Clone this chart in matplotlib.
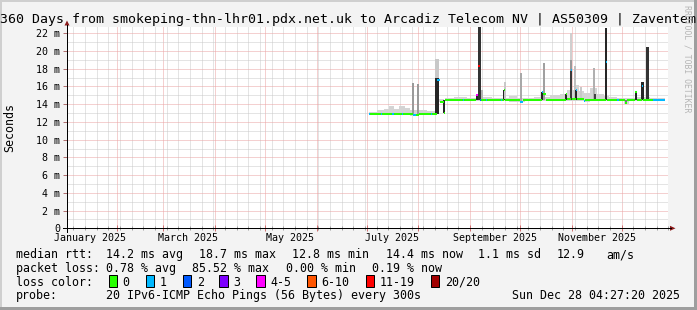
import datetime as dt
import matplotlib
matplotlib.use("Agg")
import matplotlib.pyplot as plt
from matplotlib.patches import Rectangle, Polygon
from matplotlib.lines import Line2D

W, H = 697, 310
MONO = "DejaVu Sans Mono"

start = dt.datetime(2025, 1, 2, 4, 27, 20)
span_days = 360

# median rtt (ms) as steps: start day (from graph start), value, loss class
med_day = [181.0, 181.8, 188.2, 189.0, 195.2, 196.0, 201.0, 201.8, 207.8, 209.6,
           211.0, 218.2, 219.0, 221.8, 223.8, 226.0, 226.8, 237.4, 238.2, 245.6,
           246.8, 247.9, 248.7, 251.3, 252.1, 260.5, 261.3, 262.2, 263.0, 271.8,
           273.4, 285.0, 285.8, 287.2, 299.2, 300.0, 302.2, 303.0, 305.2, 306.0,
           310.0, 311.0, 323.2, 324.0, 330.0, 331.0, 335.0, 336.0, 341.0, 341.8,
           345.0, 345.8, 351.5]
med_ms = [12.95, 12.95, 12.95, 12.95, 12.95, 12.95, 12.95, 12.95, 12.8, 12.75,
          12.9, 12.95, 12.95, 16.7, 14.3, 13.0, 14.5, 14.5, 14.5, 15.0,
          18.3, 14.45, 14.5, 14.5, 14.5, 14.5, 14.5, 15.6, 14.5, 14.3,
          14.45, 15.4, 15.2, 14.5, 15.2, 14.55, 17.9, 14.6, 15.6, 14.6,
          14.4, 14.5, 18.8, 14.5, 14.5, 14.5, 14.1, 14.5, 15.4, 14.5,
          16.0, 14.5, 14.5]
med_loss = [1, 0, 1, 0, 1, 0, 1, 0, 1, 0,
            0, 1, 0, 1, 0, 0, 0, 1, 0, 4,
            6, 2, 0, 1, 0, 1, 0, 0, 0, 1,
            0, 1, 0, 0, 0, 0, 1, 0, 1, 0,
            1, 0, 1, 0, 1, 0, 0, 0, 0, 0,
            1, 0, 1]
data_end = 358.9

# light smoke band: start day, low ms, high ms
smoke_day = [181.0, 186.0, 190.0, 193.0, 196.0, 199.0, 203.0, 206.0, 211.0, 216.0,
             221.5, 223.5, 226.0, 226.8, 232.0, 240.0, 248.0, 255.0, 265.0, 270.0,
             275.0, 280.0, 290.0, 296.0, 300.0, 304.0, 307.0, 310.0, 314.0, 318.0,
             322.0, 325.0, 330.0, 334.0, 337.0, 342.0, 350.0]
smoke_lo = [12.85, 12.85, 12.85, 12.85, 12.85, 12.85, 12.85, 12.7, 12.8, 12.85,
            12.9, 14.2, 12.9, 14.4, 14.4, 14.4, 14.4, 14.4, 14.3, 14.25,
            14.35, 14.4, 14.4, 14.4, 14.4, 14.4, 14.4, 14.3, 14.4, 14.4,
            14.4, 14.35, 14.35, 14.0, 14.35, 14.4, 14.4]
smoke_hi = [13.15, 13.3, 13.45, 13.75, 13.5, 13.85, 13.6, 13.35, 13.4, 13.2,
            13.2, 14.6, 13.1, 14.75, 14.8, 14.7, 14.8, 14.7, 14.9, 14.75,
            14.7, 14.8, 15.0, 15.1, 15.6, 16.2, 15.5, 15.3, 15.8, 15.2,
            14.9, 14.8, 14.75, 14.7, 14.7, 14.8, 14.7]

# smoke bursts: day, low ms, high ms, shade
burst_day = [207.6, 210.6, 222.2, 222.2, 226.2, 246.0, 247.5, 248.9, 262.4, 262.9,
             272.4, 285.2, 286.4, 299.4, 302.4, 302.4, 302.4, 304.6, 305.4, 308.5,
             316.4, 316.6, 323.4, 335.4, 341.3, 345.3, 348.3]
burst_lo = [12.9, 12.9, 16.9, 12.95, 13.0, 14.5, 14.5, 14.5, 14.5, 14.6,
            14.3, 14.5, 14.5, 14.5, 18.0, 17.0, 14.5, 14.6, 14.5, 14.6,
            14.6, 14.5, 14.5, 14.1, 14.5, 14.5, 14.5]
burst_hi = [16.4, 16.3, 19.1, 16.9, 14.5, 15.0, 22.8, 15.6, 15.6, 16.5,
            17.5, 15.4, 18.6, 15.2, 22.0, 19.0, 17.8, 18.3, 15.6, 15.9,
            18.1, 15.2, 22.6, 14.5, 15.4, 16.5, 20.5]
burst_shade = ['#9a9a9a', '#9a9a9a', '#c8c8c8', '#262626', '#262626', '#262626', '#333333',
               '#b4b4b4', '#262626', '#c8c8c8', '#a8a8a8', '#262626', '#a0a0a0', '#262626',
               '#cfcfcf', '#9a9a9a', '#3a3a3a', '#c0c0c0', '#262626', '#c8c8c8', '#b0b0b0',
               '#404040', '#262626', '#777777', '#262626', '#262626', '#333333']
burst_w = [1.3] * len(burst_day)
burst_w[2] = burst_w[3] = 2.2

loss_labels = ['0', '1', '2', '3', '4-5', '6-10', '11-19', '20/20']
loss_colors = ['#26ff00', '#00b8ff', '#0059ff', '#7e00ff', '#ff00ff', '#ff5500', '#ff0000', '#a10000']

y_labels = ['0', '2 m', '4 m', '6 m', '8 m', '10 m', '12 m', '14 m', '16 m', '18 m', '20 m', '22 m']
x_labels = ['January 2025', 'March 2025', 'May 2025', 'July 2025', 'September 2025', 'November 2025']
x_label_months = [1, 3, 5, 7, 9, 11]

title = "360 Days from smokeping-thn-lhr01.pdx.net.uk to Arcadiz Telecom NV | AS50309 | Zaventem"


def days(d):
    return (d - start).total_seconds() / 86400.0


def fx(x):
    return x / W


def fy(y):
    return 1 - y / H


fig = plt.figure(figsize=(W / 100, H / 100), dpi=100, facecolor='#f3f3f3')

# shaded frame
fig.add_artist(Rectangle((0, fy(2)), 1, 2 / H, transform=fig.transFigure, color='#cfcfcf', lw=0))
fig.add_artist(Rectangle((0, 0), 2 / W, 1, transform=fig.transFigure, color='#cfcfcf', lw=0))
fig.add_artist(Rectangle((0, 0), 1, 3 / H, transform=fig.transFigure, color='#9e9e9e', lw=0))
fig.add_artist(Rectangle((fx(W - 3), 0), 3 / W, 1, transform=fig.transFigure, color='#9e9e9e', lw=0))

x0, x1, y0, y1 = 67, 668.3, 228.3, 27
ax = fig.add_axes([fx(x0), fy(y0), (x1 - x0) / W, (y0 - y1) / H])
ax.set_facecolor('white')
for s in ax.spines.values():
    s.set_visible(False)
ax.set_xlim(0, span_days)
ax.set_ylim(0, 22.71)

month_ticks = [days(dt.datetime(2025, m, 1)) for m in range(2, 13)]
monday_ticks = [days(dt.datetime(2025, 1, 6) + dt.timedelta(weeks=k)) for k in range(52)]
ax.set_xticks(month_ticks)
ax.set_xticks(monday_ticks, minor=True)
ax.set_yticks(range(0, 23, 2))
ax.set_yticks(range(1, 23, 2), minor=True)
ax.set_xticklabels([])
ax.set_yticklabels([])
ax.set_axisbelow(True)
ax.grid(which='major', color='#eba3a3', linestyle=(0, (1, 1)), lw=0.72)
ax.grid(which='minor', color='#cacaca', linestyle=(0, (1, 1)), lw=0.72)
ax.tick_params(axis='x', which='major', direction='inout', length=5, width=0.72, color='#d07070')
ax.tick_params(axis='x', which='minor', direction='inout', length=3, width=0.72, color='#a0a0a0')
ax.tick_params(axis='y', which='major', direction='out', length=3, width=0.72, color='#b07070')
ax.tick_params(axis='y', which='minor', length=0)

# smoke
sd = smoke_day + [data_end]
ax.fill_between(sd, smoke_lo + [smoke_lo[-1]], smoke_hi + [smoke_hi[-1]], step='post',
                color='#d4d4d4', lw=0)
ax.bar(burst_day, [h - l for h, l in zip(burst_hi, burst_lo)], bottom=burst_lo,
       width=burst_w, color=burst_shade, lw=0)

# median line coloured by loss
for i in range(len(med_day)):
    xa = med_day[i]
    xb = med_day[i + 1] if i + 1 < len(med_day) else data_end
    ax.plot([xa, xb], [med_ms[i], med_ms[i]], color=loss_colors[med_loss[i]], lw=1.45,
            solid_capstyle='butt')

# axis labels
ytr = ax.get_yaxis_transform()
for v, lab in zip(range(0, 23, 2), y_labels):
    ax.text(-6.5 / (x1 - x0), v, lab, transform=ytr, ha='right', va='center_baseline',
            family=MONO, fontsize=7.2)
xtr = ax.get_xaxis_transform()
for m, lab in zip(x_label_months, x_labels):
    ax.text(days(dt.datetime(2025, m, 1)) + 15, -12.7 / (y0 - y1), lab, transform=xtr,
            ha='center', va='baseline', family=MONO, fontsize=7.2)

# axis lines and arrows
fig.add_artist(Line2D([fx(63), fx(671)], [fy(y0), fy(y0)], transform=fig.transFigure, color='black', lw=0.72))
fig.add_artist(Line2D([fx(x0), fx(x0)], [fy(231.5), fy(25)], transform=fig.transFigure, color='black', lw=0.72))
fig.add_artist(Polygon([(fx(670), fy(y0 - 2.5)), (fx(670), fy(y0 + 2.5)), (fx(675.5), fy(y0))],
                       transform=fig.transFigure, color='#8b1a1a', lw=0))
fig.add_artist(Polygon([(fx(x0 - 2.5), fy(25.5)), (fx(x0 + 2.5), fy(25.5)), (fx(x0), fy(20.5))],
                       transform=fig.transFigure, color='#8b1a1a', lw=0))

fig.text(fx(348.5), fy(23.3), title, ha='center', va='baseline', family=MONO, fontsize=9.5)
fig.text(fx(10), fy(128), 'Seconds', rotation=90, ha='center', va='center', family=MONO, fontsize=8.4)
fig.text(fx(687.5), fy(59), 'RRDTOOL / TOBI OETIKER', rotation=270, ha='center', va='center',
         family=MONO, fontsize=5.9, color='#b5b5b5')

# legend
FS = 8.4
rows = [258.3, 271.9, 285.7, 299.2]
line1 = [("median rtt:", 16), ("14.2 ms avg", 106), ("18.7 ms max", 199), ("12.8 ms min", 292),
         ("14.4 ms now", 385.5), ("1.1 ms sd", 478), ("12.9", 557), ("am/s", 606.5)]
line2 = [("packet loss:", 16), ("0.78 % avg", 106.5), ("85.52 % max", 192.5), ("0.00 % min", 285.5),
         ("0.19 % now", 371.5)]
for items, yb in ((line1, rows[0]), (line2, rows[1])):
    for txt, xp in items:
        fig.text(fx(xp), fy(yb), txt, ha='left', va='baseline', family=MONO, fontsize=FS)

fig.text(fx(16), fy(rows[2]), "loss color:", ha='left', va='baseline', family=MONO, fontsize=FS)
box_x = [108.7, 145.7, 182.7, 219.3, 256.0, 307.3, 365.7, 430.7]
for bx, lab, col in zip(box_x, loss_labels, loss_colors):
    fig.add_artist(Rectangle((fx(bx), fy(286.5)), 8.5 / W, 11.3 / H, transform=fig.transFigure,
                             facecolor=col, edgecolor='black', lw=0.72))
    fig.text(fx(bx + 14), fy(rows[2]), lab, ha='left', va='baseline', family=MONO, fontsize=FS)

fig.text(fx(16), fy(rows[3]), "probe:", ha='left', va='baseline', family=MONO, fontsize=FS)
fig.text(fx(106.5), fy(rows[3]), "20 IPv6-ICMP Echo Pings (56 Bytes) every 300s", ha='left',
         va='baseline', family=MONO, fontsize=FS)
fig.text(fx(680.5), fy(rows[3]), "Sun Dec 28 04:27:20 2025", ha='right', va='baseline',
         family=MONO, fontsize=FS)

fig.savefig('out.png', dpi=100, facecolor=fig.get_facecolor())
